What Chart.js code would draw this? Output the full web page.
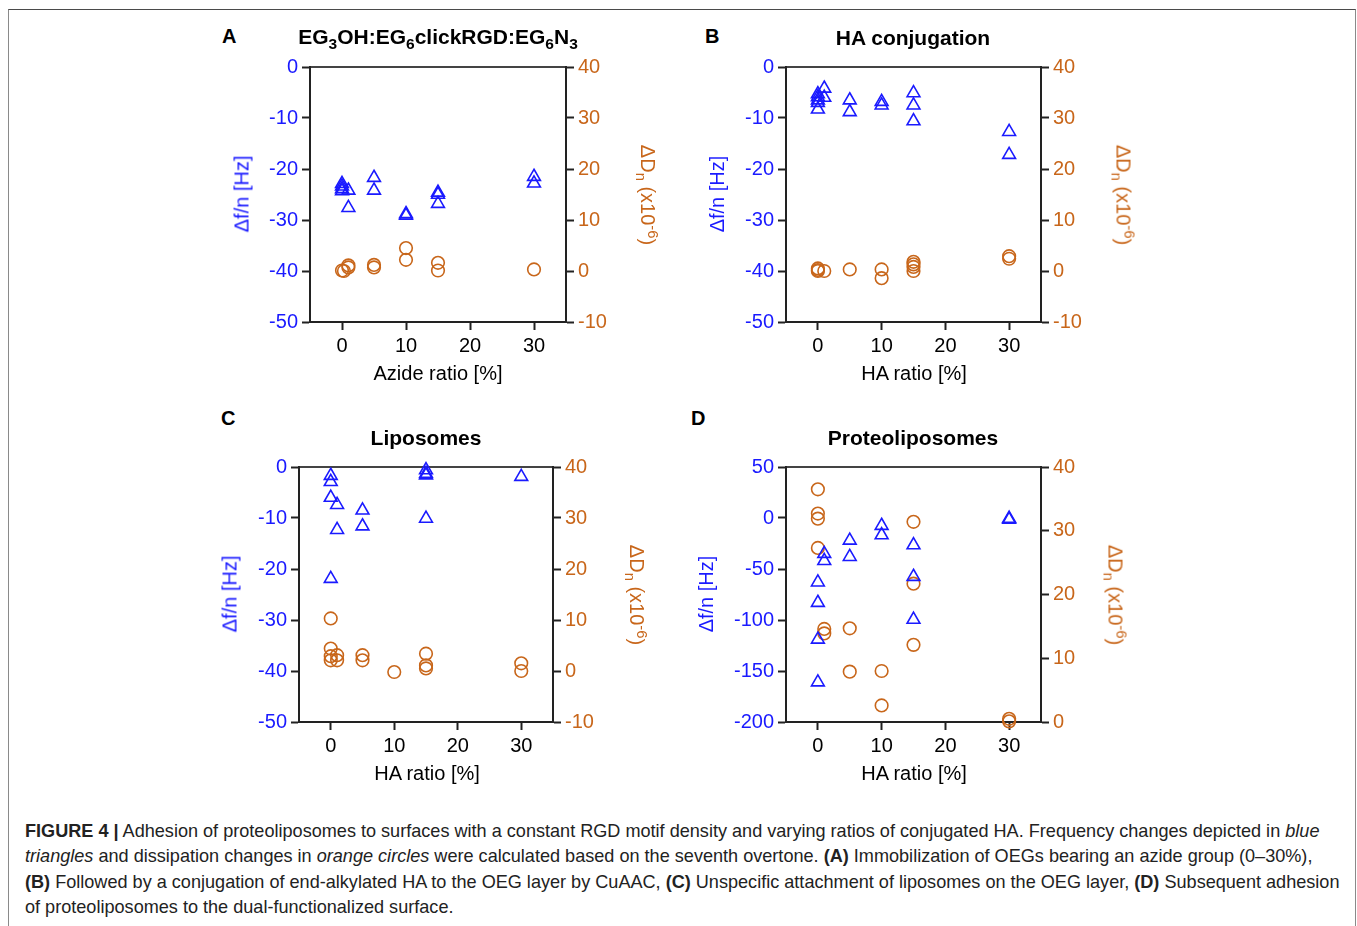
<!DOCTYPE html>
<html>
<head>
<meta charset="utf-8">
<script src="https://cdn.jsdelivr.net/npm/chart.js@4.4.1/dist/chart.umd.min.js"></script>
<style>
  body { margin: 0; background: #fff; width: 1357px; height: 926px; position: relative; overflow: hidden;
         font-family: "Liberation Sans", Arial, sans-serif; color: #000; }
  .frame { position: absolute; left: 8px; top: 9px; width: 1346px; height: 960px;
           border-top: 1.5px solid #4a4a4a; border-left: 1px solid #8a8a8a; border-right: 1px solid #8a8a8a; }
  canvas { position: absolute; }
  .lbl { position: absolute; white-space: nowrap; font-size: 20px; transform: translate(-50%, -50%); }
  .letter { position: absolute; font-weight: bold; font-size: 20px; line-height: 20px; }
  .ttl { font-weight: bold; font-size: 21px; }
  .blue { color: #1a1aff; }
  .orange { color: #c8661a; }
  .rotL { transform: translate(-50%, -50%) rotate(-90deg); }
  .rotR { transform: translate(-50%, -50%) rotate(90deg); }
  sub, sup { font-size: 0.74em; line-height: 0; }
  .caption { position: absolute; left: 25px; top: 819px; font-size: 18.1px; line-height: 25.3px; color: #222; white-space: nowrap; }
</style>
</head>
<body>
<div class="frame"></div>

<canvas id="chartA" width="416" height="325"></canvas>
<canvas id="chartB" width="415" height="325"></canvas>
<canvas id="chartC" width="414" height="325"></canvas>
<canvas id="chartD" width="415" height="325"></canvas>

<!-- panel letters and titles -->
<div class="letter" style="left:222px; top:26px;">A</div>
<div class="letter" style="left:705px; top:26px;">B</div>
<div class="letter" style="left:221px; top:408px;">C</div>
<div class="letter" style="left:691px; top:408px;">D</div>

<div class="lbl ttl" style="left:438px; top:37px;">EG<sub>3</sub>OH:EG<sub>6</sub>clickRGD:EG<sub>6</sub>N<sub>3</sub></div>
<div class="lbl ttl" style="left:913px; top:38px;">HA conjugation</div>
<div class="lbl ttl" style="left:426px; top:438px;">Liposomes</div>
<div class="lbl ttl" style="left:913px; top:438px;">Proteoliposomes</div>

<!-- axis titles -->
<div class="lbl blue rotL" style="left:242px; top:194px;">&Delta;f/n [Hz]</div>
<div class="lbl orange rotR" style="left:647px; top:195px;">&Delta;D<sub>n</sub> (x10<sup>-6</sup>)</div>
<div class="lbl" style="left:438px; top:373px;">Azide ratio [%]</div>

<div class="lbl blue rotL" style="left:717px; top:194px;">&Delta;f/n [Hz]</div>
<div class="lbl orange rotR" style="left:1123px; top:195px;">&Delta;D<sub>n</sub> (x10<sup>-6</sup>)</div>
<div class="lbl" style="left:914px; top:373px;">HA ratio [%]</div>

<div class="lbl blue rotL" style="left:230px; top:594px;">&Delta;f/n [Hz]</div>
<div class="lbl orange rotR" style="left:636px; top:595px;">&Delta;D<sub>n</sub> (x10<sup>-6</sup>)</div>
<div class="lbl" style="left:427px; top:773px;">HA ratio [%]</div>

<div class="lbl blue rotL" style="left:706px; top:594px;">&Delta;f/n [Hz]</div>
<div class="lbl orange rotR" style="left:1115px; top:595px;">&Delta;D<sub>n</sub> (x10<sup>-6</sup>)</div>
<div class="lbl" style="left:914px; top:773px;">HA ratio [%]</div>

<div class="caption">
<b>FIGURE 4 |</b> Adhesion of proteoliposomes to surfaces with a constant RGD motif density and varying ratios of conjugated HA. Frequency changes depicted in <i>blue</i><br>
<i>triangles</i> and dissipation changes in <i>orange circles</i> were calculated based on the seventh overtone. <b>(A)</b> Immobilization of OEGs bearing an azide group (0–30%),<br>
<b>(B)</b> Followed by a conjugation of end-alkylated HA to the OEG layer by CuAAC, <b>(C)</b> Unspecific attachment of liposomes on the OEG layer, <b>(D)</b> Subsequent adhesion<br>
of proteoliposomes to the dual-functionalized surface.
</div>

<script>
// ---- data ----
// x = ratio [%], triangles = frequency shift (left axis), circles = dissipation (right axis)
const xTicks = [0, 10, 20, 30];

// A: EG3OH:EG6clickRGD:EG6N3
const aTriX = [0, 0, 0, 0, 1, 1, 5, 5, 10, 10, 15, 15, 15, 30, 30];
const aTriY = [-22.9, -23.4, -23.9, -24.3, -24.2, -27.6, -21.7, -24.2, -28.8, -29.1, -24.6, -25.0, -26.8, -21.5, -22.8];
const aCirX = [0, 0.3, 1, 1, 5, 5, 10, 10, 15, 15, 30];
const aCirY = [0.1, 0.0, 1.1, 0.7, 1.2, 0.7, 4.5, 2.2, 1.6, 0.1, 0.3];

// B: HA conjugation
const bTriX = [0, 0, 0, 0, 0, 1, 1, 5, 5, 10, 10, 15, 15, 15, 30, 30];
const bTriY = [-5.3, -5.9, -6.5, -7.0, -8.3, -4.2, -6.0, -6.5, -8.8, -6.8, -7.5, -5.1, -7.5, -10.6, -12.7, -17.2];
const bCirX = [0, 0, 0, 1, 5, 10, 10, 15, 15, 15, 15, 30, 30];
const bCirY = [0.5, 0.2, 0.0, 0.0, 0.3, 0.3, -1.4, 1.8, 1.3, 0.8, 0.0, 2.9, 2.4];

// C: Liposomes
const cTriX = [0, 0, 0, 0, 1, 1, 5, 5, 15, 15, 15, 15, 30];
const cTriY = [-1.7, -2.9, -6.0, -21.9, -7.4, -12.3, -8.5, -11.6, -0.6, -1.3, -1.6, -10.1, -1.9];
const cCirX = [0, 0, 0, 0, 1, 1, 5, 5, 10, 15, 15, 15, 30, 30];
const cCirY = [10.3, 4.4, 2.9, 2.1, 3.1, 2.1, 3.1, 2.1, -0.2, 3.4, 1.1, 0.5, 1.5, 0.0];

// D: Proteoliposomes
const dTriX = [0, 0, 0, 0, 1, 1, 5, 5, 10, 10, 15, 15, 15, 30, 30];
const dTriY = [-63, -83, -119, -161, -35, -42, -22, -38, -7.5, -16.7, -26.5, -57.5, -99.6, -1.5, -0.5];
const dCirX = [0, 0, 0, 0, 1, 1, 5, 5, 10, 10, 15, 15, 15, 30, 30];
const dCirY = [36.5, 32.7, 31.9, 27.3, 14.6, 13.9, 14.7, 7.9, 8.0, 2.6, 31.4, 21.7, 12.1, 0.5, 0.1];

// left / right tick labels
const fTicksABC = [0, -10, -20, -30, -40, -50];
const dTicksABC = [40, 30, 20, 10, 0, -10];
const fTicksD = [50, 0, -50, -100, -150, -200];
const dTicksD = [40, 30, 20, 10, 0];

// ---- styling ----
const BLUE = '#1a1aff';
const ORANGE = '#c8661a';
const AXIS = '#222';
const FONT = { family: "'Liberation Sans', Arial, sans-serif", size: 20 };
const PAD_SIDE = 80, PAD_TOP = 20, PAD_BOTTOM = 50;

function pts(xs, ys) {
  return xs.map((x, i) => ({ x: x, y: ys[i] }));
}

function fixTicks(values) {
  return s => { s.ticks = values.map(v => ({ value: v })); };
}

// plot = plot area rect in page pixels
function makePanel(id, plot, tri, cir, left, right) {
  const canvas = document.getElementById(id);
  canvas.style.left = (plot.l - PAD_SIDE) + 'px';
  canvas.style.top = (plot.t - PAD_TOP) + 'px';
  canvas.width = (plot.r - plot.l) + 2 * PAD_SIDE;
  canvas.height = (plot.b - plot.t) + PAD_TOP + PAD_BOTTOM;

  const sideAxis = (pos, range, color) => ({
    type: 'linear',
    position: pos,
    min: range.min,
    max: range.max,
    afterBuildTicks: fixTicks(range.ticks),
    afterFit: s => { s.width = PAD_SIDE; },
    ticks: { color: color, font: FONT, padding: 4 },
    grid: { drawOnChartArea: false, tickLength: 8, tickWidth: 2, tickColor: AXIS },
    border: { color: AXIS, width: 2 }
  });

  return new Chart(canvas.getContext('2d'), {
    type: 'scatter',
    data: {
      datasets: [
        {
          data: pts(tri[0], tri[1]),
          yAxisID: 'yL',
          pointStyle: 'triangle',
          pointRadius: 7.4,
          pointBorderWidth: 1.6,
          borderColor: BLUE,
          backgroundColor: 'rgba(0,0,0,0)',
          clip: false
        },
        {
          data: pts(cir[0], cir[1]),
          yAxisID: 'yR',
          pointStyle: 'circle',
          pointRadius: 6.3,
          pointBorderWidth: 1.6,
          borderColor: ORANGE,
          backgroundColor: 'rgba(0,0,0,0)',
          clip: false
        }
      ]
    },
    options: {
      responsive: false,
      animation: false,
      events: [],
      devicePixelRatio: 1,
      layout: { padding: { top: PAD_TOP, left: 0, right: 0, bottom: 0 } },
      plugins: { legend: { display: false }, tooltip: { enabled: false } },
      scales: {
        x: {
          type: 'linear',
          position: 'bottom',
          min: -5,
          max: 35,
          afterBuildTicks: fixTicks(xTicks),
          afterFit: s => { s.height = PAD_BOTTOM; },
          ticks: { color: '#000', font: FONT, padding: 4 },
          grid: { drawOnChartArea: false, tickLength: 8, tickWidth: 2, tickColor: AXIS },
          border: { color: AXIS, width: 2 }
        },
        xTop: {
          type: 'linear',
          position: 'top',
          min: -5,
          max: 35,
          afterFit: s => { s.height = 0; },
          ticks: { display: false },
          grid: { display: false },
          border: { color: '#444', width: 2 }
        },
        yL: sideAxis('left', left, BLUE),
        yR: sideAxis('right', right, ORANGE)
      }
    }
  });
}

const rangeF = { min: -50, max: 0, ticks: fTicksABC };
const rangeD = { min: -10, max: 40, ticks: dTicksABC };

makePanel('chartA', { l: 310, r: 566, t: 67, b: 322 }, [aTriX, aTriY], [aCirX, aCirY], rangeF, rangeD);
makePanel('chartB', { l: 786, r: 1041, t: 67, b: 322 }, [bTriX, bTriY], [bCirX, bCirY], rangeF, rangeD);
makePanel('chartC', { l: 299, r: 553, t: 467, b: 722 }, [cTriX, cTriY], [cCirX, cCirY], rangeF, rangeD);
makePanel('chartD', { l: 786, r: 1041, t: 467, b: 722 }, [dTriX, dTriY], [dCirX, dCirY],
  { min: -200, max: 50, ticks: fTicksD }, { min: 0, max: 40, ticks: dTicksD });
</script>
</body>
</html>
